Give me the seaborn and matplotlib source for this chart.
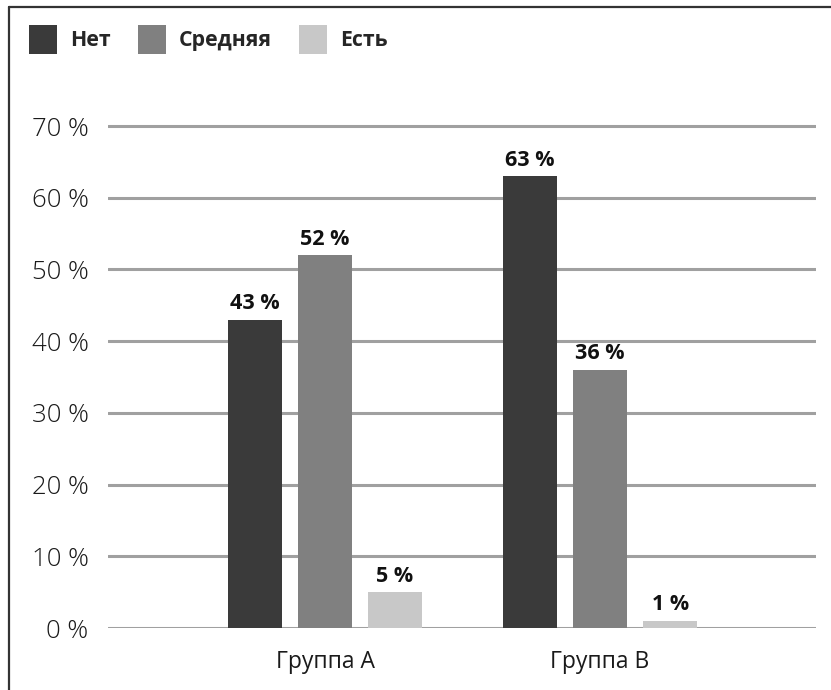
import matplotlib
matplotlib.use("Agg")
import matplotlib.pyplot as plt
from matplotlib.lines import Line2D
import seaborn as sns
import pandas as pd

groups = ["Группа A", "Группа B"]
levels = ["Нет", "Средняя", "Есть"]
values_a = [43, 52, 5]
values_b = [63, 36, 1]
yticks = [0, 10, 20, 30, 40, 50, 60, 70]
colors = ["#3a3a3a", "#808080", "#c8c8c8"]

rows = []
for g, vals in zip(groups, [values_a, values_b]):
    for lvl, v in zip(levels, vals):
        rows.append({"group": g, "level": lvl, "value": v})
df = pd.DataFrame(rows)

sns.set_theme(style="white")
plt.rcParams["font.family"] = ["Open Sans", "DejaVu Sans"]

W, H = 831, 690
fig = plt.figure(figsize=(W / 100, H / 100), dpi=100)
ax_left, ax_right = 108, 816
zero_y = 628
px_per_unit = 502 / 70
ymax = 71
ax_top = zero_y - ymax * px_per_unit
ax = fig.add_axes([ax_left / W, 1 - zero_y / H, (ax_right - ax_left) / W, (zero_y - ax_top) / H])

sns.barplot(data=df, x="group", y="value", hue="level", hue_order=levels,
            order=groups, palette=colors, width=0.7636, gap=0.23,
            saturation=1, linewidth=0, ax=ax, legend=True, zorder=3)

ax.set_xlim(-0.789, 1.785)
ax.set_ylim(0, ymax)
ax.set_yticks(yticks)
ax.set_yticklabels([f"{t} %" for t in yticks], fontsize=18.5, fontweight="light",
                   color="#1a1a1a")
ax.tick_params(axis="y", length=0, pad=14)
ax.tick_params(axis="x", length=0, pad=16, labelsize=16.5, labelcolor="#1a1a1a")
ax.set_xlabel("")
ax.set_ylabel("")
for s in ax.spines.values():
    s.set_visible(False)
ax.yaxis.grid(True, color="#a0a0a0", linewidth=2.2, zorder=0)
ax.set_axisbelow(True)

for container in ax.containers:
    ax.bar_label(container, labels=[f"{int(v)} %" for v in container.datavalues],
                 fontsize=15.5, fontweight="bold", padding=4, color="#111111")

handles, labels = ax.get_legend_handles_labels()
ax.get_legend().remove()
fig.legend(handles, labels, loc="upper left", bbox_to_anchor=(29 / W, 1 - 25 / H),
           ncol=3, frameon=False, borderpad=0, borderaxespad=0,
           handlelength=1.32, handleheight=1.7,
           handletextpad=0.61, columnspacing=1.27,
           prop={"weight": "bold", "size": 15.3})

# frame lines along top and left edges
fig.add_artist(Line2D([9 / W, 1], [1 - 7 / H, 1 - 7 / H], transform=fig.transFigure,
                      color="#333333", linewidth=1.6))
fig.add_artist(Line2D([9 / W, 9 / W], [0, 1 - 7 / H], transform=fig.transFigure,
                      color="#333333", linewidth=1.6))

fig.savefig("out.png", dpi=100, facecolor="white")
